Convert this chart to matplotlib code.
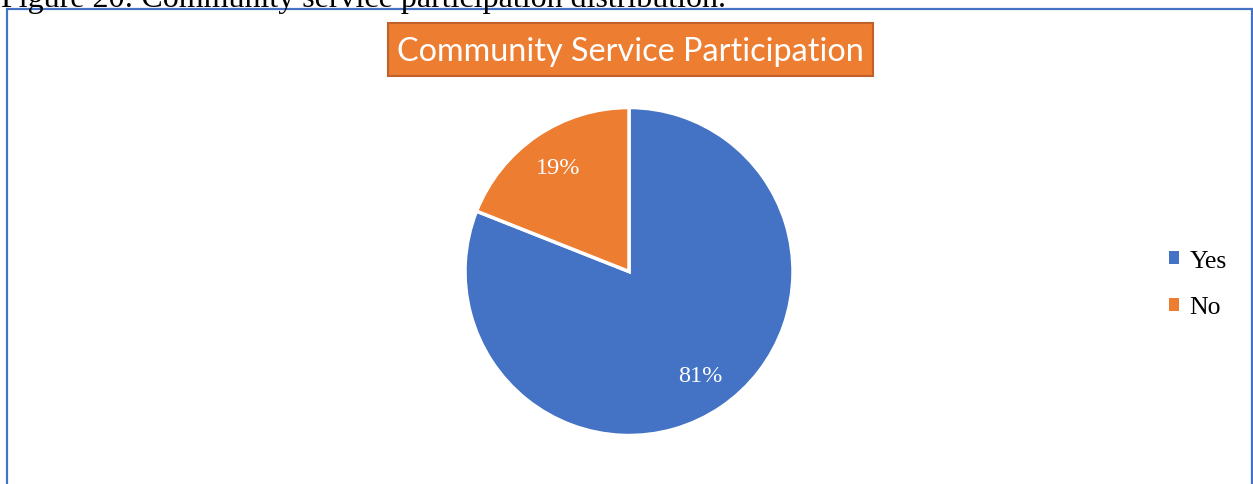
import matplotlib.pyplot as plt
from matplotlib.patches import Rectangle

# data
labels = ['Yes', 'No']
shares = [81, 19]
colors = ['#4472C4', '#ED7D31']

W, H = 1253, 485
fig = plt.figure(figsize=(W / 100, H / 100), dpi=100)
fig.patch.set_facecolor('white')

def fx(x):
    return x / W

def fy(y):
    return 1 - y / H

# caption cut off at the top of the page
fig.text(fx(1), fy(7), 'Figure 20: Community service participation distribution.',
         family='Liberation Serif', fontsize=23, color='black', va='baseline', ha='left')

# chart frame
fig.patches.append(Rectangle((fx(6.5), fy(490)), fx(1252) - fx(6.5), fy(9.5) - fy(490),
                             transform=fig.transFigure, fill=False,
                             edgecolor='#4472C4', linewidth=1.6, zorder=1))

# title box
fig.patches.append(Rectangle((fx(388), fy(77)), fx(873) - fx(388), fy(24) - fy(77),
                             transform=fig.transFigure, facecolor='#ED7D31',
                             edgecolor='#C0602A', linewidth=1.5, zorder=2))
fig.text(fx(630), fy(52), 'Community Service Participation', family='Lato',
         fontsize=23.3, color='white', ha='center', va='center', zorder=3)

# pie
cx, cy, r = 629, 272.5, 164
ax = fig.add_axes([fx(cx - r), fy(cy + r), fx(2 * r), (2 * r) / H])
wedges, texts, autotexts = ax.pie(shares, colors=colors, startangle=90, counterclock=False,
                                  autopct='%d%%', pctdistance=0.77,
                                  wedgeprops=dict(edgecolor='white', linewidth=2.5),
                                  textprops=dict(color='white', family='Liberation Serif', fontsize=17.5))
for w in wedges:
    w.set_clip_on(False)
ax.set_xlim(-1, 1)
ax.set_ylim(-1, 1)
ax.set_aspect('equal')
ax.axis('off')

# legend
leg = fig.legend(wedges, labels, loc='center left', bbox_to_anchor=(fx(1169), fy(285)),
                 frameon=False, prop=dict(family='Liberation Serif', size=18.5),
                 handlelength=0.4, handleheight=0.4, handletextpad=0.4, labelspacing=0.95,
                 borderaxespad=0, borderpad=0)
for h in leg.legend_handles:
    h.set_edgecolor('none')

fig.savefig('out.png', dpi=100)
